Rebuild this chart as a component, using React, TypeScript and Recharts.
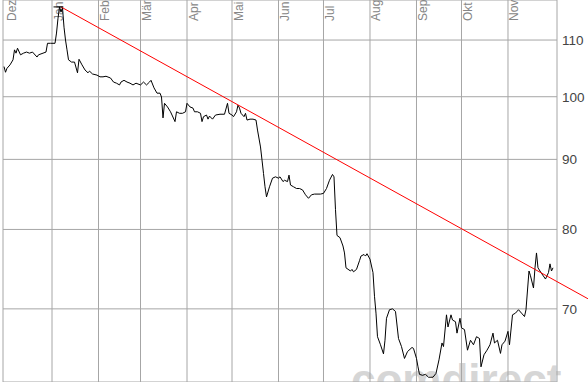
import React from "react";
import { LineChart, Line, XAxis, YAxis, CartesianGrid, ReferenceLine } from "recharts";

// day index counted from 1 Dec (day 0)
const days = [-1,0,1,3,5,6,7,8,10,12,14,16,18,21,22,25,27,28,30,33,34,35,36,37,38,39,40,41,42,44,46,48,49,51,53,55,56,58,61,63,65,67,70,72,74,76,77,79,81,83,85,87,90,92,94,96,97,99,101,103,104,105,106,108,110,111,113,114,116,118,120,121,123,125,126,128,130,131,132,134,135,136,138,140,143,146,148,149,151,152,154,155,156,157,159,160,161,163,165,167,168,170,171,172,173,174,176,178,180,182,183,185,186,188,189,190,192,194,196,198,200,202,204,206,210,212,214,216,218,219,220,221,223,225,226,227,230,231,232,234,236,237,239,240,241,243,245,246,247,248,250,252,253,254,256,258,260,262,264,266,268,271,272,274,275,276,278,280,282,285,287,289,291,292,294,295,297,298,300,301,303,304,306,308,310,312,314,316,317,319,321,323,325,326,328,330,331,333,335,336,338,340,342,344,346,347,349,350,352,353,354,355,357,360,362,363,364,365];
const prices = [105.2,104.2,104.9,105.5,106.4,108.2,107.6,108.5,107.3,107.6,107.8,107.6,107.8,106.9,107.3,107.6,107.8,109.4,109.4,109.4,111.3,114.1,116.3,115.3,116.1,112.4,110.0,108.2,106.4,106.0,106.0,104.1,106.5,105.5,104.6,104.1,104.4,103.9,103.7,103.4,103.4,103.5,103.2,102.5,102.3,102.0,102.5,102.8,102.5,102.3,102.0,102.3,102.0,102.5,102.0,102.5,102.8,101.5,100.6,100.6,99.95,96.5,98.9,98.3,97.5,96.97,95.9,97.5,97.25,97.25,97.5,98.9,98.3,98.1,97.5,97.5,97.25,95.9,96.7,96.97,96.3,96.8,96.3,96.97,97.1,97.1,98.9,97.25,96.97,96.7,97.5,98.6,98.1,97.25,96.7,97.25,96.15,96.3,96.3,96.15,94.55,91.9,89.9,87.9,85.95,84.5,85.95,87.2,87.4,87.2,87.4,86.7,86.9,86.7,87.65,86.2,85.95,85.7,85.7,85.5,84.8,84.3,84.8,84.9,84.9,85.0,85.7,86.9,87.75,87.4,82.7,79.2,78.9,77.8,76.9,75.0,74.6,74.8,74.5,74.8,75.9,76.5,76.7,76.5,76.8,76.1,74.4,71.5,69.5,66.8,65.9,64.9,66.4,68.9,69.9,70.0,69.7,66.6,65.7,64.4,65.15,65.6,65.5,64.4,63.5,62.7,62.6,62.7,62.4,62.4,62.8,64.25,66.1,65.7,69.3,67.9,69.3,68.7,68.5,67.2,68.9,67.8,67.6,65.3,66.4,65.9,66.8,66.6,63.5,64.8,65.3,65.9,67.2,66.1,66.4,64.95,65.9,66.3,67.4,65.9,69.3,69.5,69.9,69.5,69.1,69.9,74.6,74.0,72.5,75.0,76.9,75.0,74.4,73.6,74.4,75.5,74.6,75.0];

const monthStarts = [0, 31, 62, 90, 121, 151, 182, 212, 243, 274, 304, 335];
const monthLabels = ["Dez", "Jan", "Feb", "Mär", "Apr", "Mai", "Jun", "Jul", "Aug", "Sep", "Okt", "Nov"];
const yTicks = [70, 80, 90, 100, 110];

// trend line (start at January high) and high marker
const trendStart = { x: 37, y: 116.3 };
const trendEnd = { x: 388.3, y: 71.2 };
const highMarkStart = { x: 32, y: 116.3 };
const highMarkEnd = { x: 38.5, y: 116.3 };

const xDomain: [number, number] = [-1.67, 367.67];
const yDomain: [number, number] = [61.9, 117.66];

const data = days.map((d, i) => ({ day: d, price: prices[i] }));

const FONT = "'Liberation Sans', Arial, sans-serif";
const GRID = "#a6a6a6";

const MonthLabel = (props: any) => {
  const { viewBox, text } = props;
  const bx = viewBox.x + 10.5;
  const by = 21;
  return (
    <text
      x={bx}
      y={by}
      transform={`rotate(-90, ${bx}, ${by})`}
      textAnchor="start"
      fontSize={12}
      fontFamily={FONT}
      fill="#868686"
    >
      {text}
    </text>
  );
};

const PriceTick = (props: any) => {
  const { x, y, payload } = props;
  return (
    <text x={x} y={y} dy={5} textAnchor="start" fontSize={13.5} fontFamily={FONT} fill="#444">
      {payload.value}
    </text>
  );
};

export default function App() {
  return (
    <div style={{ position: "absolute", left: 0, top: 0, width: 588, height: 382, background: "#fff", overflow: "hidden" }}>
      <svg width={588} height={382} style={{ position: "absolute", left: 0, top: 0 }}>
        <text x={351} y={395} fontSize={44} fontWeight="bold" fontFamily={FONT} fill="#d6d6d6">
          comdirect
        </text>
      </svg>
      <div style={{ position: "absolute", left: 0, top: 0 }}>
        <LineChart width={588} height={382} data={data} margin={{ top: 0, right: 0, bottom: 0, left: 3 }}>
          <CartesianGrid vertical={false} stroke={GRID} strokeWidth={1} />
          <XAxis dataKey="day" type="number" domain={xDomain} allowDataOverflow hide />
          <YAxis
            orientation="right"
            width={31}
            scale="log"
            domain={yDomain}
            allowDataOverflow
            ticks={yTicks}
            interval={0}
            axisLine={false}
            tickLine={false}
            tickSize={0}
            tickMargin={5}
            tick={<PriceTick />}
          />
          <ReferenceLine x={xDomain[0]} stroke={GRID} strokeWidth={1} ifOverflow="visible" />
          <ReferenceLine x={xDomain[1]} stroke={GRID} strokeWidth={1} ifOverflow="visible" />
          {monthStarts.map((m, i) => (
            <ReferenceLine
              key={m}
              x={m}
              stroke={i === 0 ? "none" : GRID}
              strokeWidth={1}
              label={<MonthLabel text={monthLabels[i]} />}
            />
          ))}
          <Line
            dataKey="price"
            type="linear"
            stroke="#000"
            strokeWidth={1}
            dot={false}
            isAnimationActive={false}
          />
          <ReferenceLine segment={[trendStart, trendEnd]} stroke="#ff0000" strokeWidth={1} ifOverflow="visible" />
          <ReferenceLine segment={[highMarkStart, highMarkEnd]} stroke="#000" strokeWidth={1} ifOverflow="visible" />
        </LineChart>
      </div>
    </div>
  );
}
